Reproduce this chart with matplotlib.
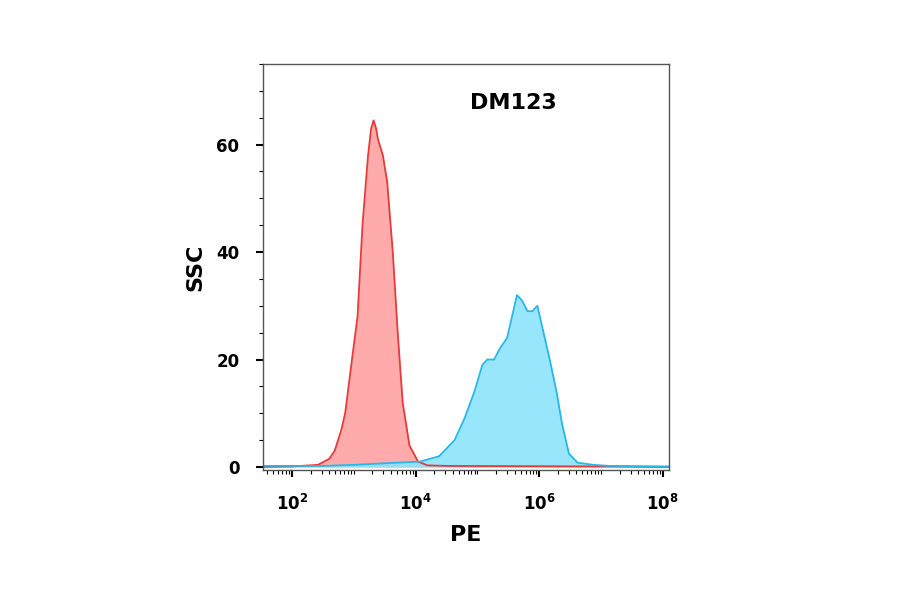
import matplotlib
matplotlib.use("Agg")
import matplotlib.pyplot as plt
import numpy as np
from matplotlib.ticker import LogLocator, MultipleLocator, NullFormatter

red_logx = [1.5, 2.0, 2.42, 2.6, 2.69, 2.8, 2.86, 2.97, 3.06, 3.14, 3.23, 3.28, 3.32, 3.36, 3.39, 3.47, 3.54, 3.63, 3.71, 3.79, 3.90, 4.04, 4.19, 4.52, 7.0, 8.1]
red_y = [0.0, 0.1, 0.4, 1.5, 3, 7, 10, 20, 28, 45, 58, 63, 64.5, 63, 61, 58, 53, 40, 25, 12, 4, 1, 0.3, 0.2, 0.1, 0.0]
blue_logx = [1.5, 2.5, 3.0, 3.7, 4.07, 4.38, 4.63, 4.79, 4.95, 5.08, 5.16, 5.27, 5.36, 5.48, 5.56, 5.64, 5.72, 5.81, 5.89, 5.97, 6.05, 6.17, 6.28, 6.37, 6.48, 6.62, 6.88, 7.13, 8.1]
blue_y = [0.2, 0.2, 0.4, 0.8, 1.0, 2, 5, 9, 14, 19, 20, 20, 22, 24, 28, 32, 31, 29, 29, 30, 26, 20, 14, 8, 2.5, 0.8, 0.4, 0.2, 0.1]

fig = plt.figure(figsize=(9, 5.94), dpi=100)
ax = fig.add_axes([263/900, 1-470/594, 406/900, 406/594])
bx = 10**np.array(blue_logx); rx = 10**np.array(red_logx)
ax.fill_between(rx, red_y, color="#ff9c9c", alpha=0.85, lw=0)
ax.plot(rx, red_y, color="#e83a3a", lw=1.3)
ax.fill_between(bx, blue_y, color="#8ce4fb", alpha=0.9, lw=0)
ax.plot(bx, blue_y, color="#29b6e8", lw=1.3)
ax.set_xscale("log")
ax.set_xlim(10**1.53, 10**8.1)
ax.set_ylim(-0.56, 75.0)
ax.xaxis.set_major_locator(LogLocator(base=100, numticks=10))
ax.xaxis.set_minor_locator(LogLocator(base=10, subs=np.arange(1, 10), numticks=50))
ax.xaxis.set_minor_formatter(NullFormatter())
ax.yaxis.set_major_locator(MultipleLocator(20))
ax.yaxis.set_minor_locator(MultipleLocator(5))
ax.tick_params(which="major", length=5, width=1.5, labelsize=12)
ax.tick_params(axis="x", which="major", pad=12)
ax.tick_params(axis="y", which="major", pad=12)
ax.tick_params(which="minor", length=3, width=0.8)
for l in ax.get_xticklabels() + ax.get_yticklabels():
    l.set_fontweight("bold")
for s in ax.spines.values():
    s.set_color("#555555"); s.set_linewidth(1)
ax.set_xlabel("PE", fontsize=16, fontweight="bold", labelpad=8)
ax.set_ylabel("SSC", fontsize=16, fontweight="bold", labelpad=8)
ax.text(0.616, 0.904, "DM123", transform=ax.transAxes, ha="center", va="center", fontsize=16, fontweight="bold")
fig.savefig("out.png", dpi=100)
